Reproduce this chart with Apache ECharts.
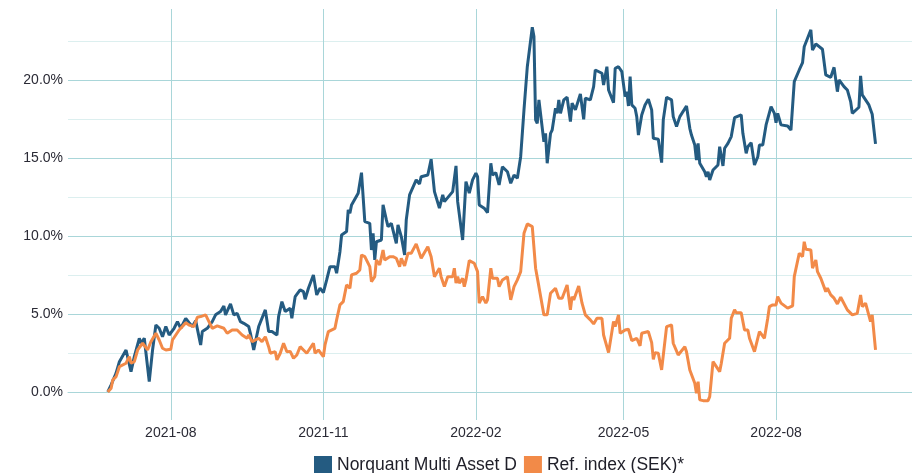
<!DOCTYPE html>
<html>
<head>
<meta charset="utf-8">
<script src="https://cdn.jsdelivr.net/npm/echarts@6/dist/echarts.min.js"></script>
<style>
  html, body { margin: 0; padding: 0; background: #fff; }
  #chart { width: 912px; height: 473px; }
</style>
</head>
<body>
<div id="chart"></div>
<script>
// axis ticks
var monthTicks = ['2021-08-01', '2021-11-01', '2022-02-01', '2022-05-01', '2022-08-01'];
var percentTicks = [0, 5, 10, 15, 20];
var gridTicks = [0, 2.5, 5, 7.5, 10, 12.5, 15, 17.5, 20, 22.5];

// Norquant Multi Asset D (%)
var fundDates = [
  '2021-06-24','2021-06-26','2021-06-29','2021-07-01','2021-07-05','2021-07-08','2021-07-10','2021-07-13','2021-07-14','2021-07-16',
  '2021-07-19','2021-07-21','2021-07-23','2021-07-25','2021-07-27','2021-07-29','2021-07-31','2021-08-03','2021-08-05','2021-08-07',
  '2021-08-10','2021-08-12','2021-08-14','2021-08-16','2021-08-19','2021-08-20','2021-08-23','2021-08-26','2021-08-28','2021-08-31',
  '2021-09-02','2021-09-03','2021-09-06','2021-09-08','2021-09-10','2021-09-12','2021-09-14','2021-09-17','2021-09-18','2021-09-20',
  '2021-09-23','2021-09-24','2021-09-27','2021-09-29','2021-10-01','2021-10-04','2021-10-05','2021-10-07','2021-10-09','2021-10-12',
  '2021-10-13','2021-10-15','2021-10-18','2021-10-20','2021-10-21','2021-10-23','2021-10-26','2021-10-28','2021-10-30','2021-11-01',
  '2021-11-03','2021-11-04','2021-11-05','2021-11-08','2021-11-09','2021-11-11','2021-11-12','2021-11-15','2021-11-16','2021-11-17',
  '2021-11-18','2021-11-22','2021-11-24','2021-11-25','2021-11-26','2021-11-29','2021-11-30','2021-12-01','2021-12-02','2021-12-03',
  '2021-12-06','2021-12-07','2021-12-09','2021-12-10','2021-12-12','2021-12-13','2021-12-15','2021-12-16','2021-12-18','2021-12-20',
  '2021-12-21','2021-12-23','2021-12-27','2021-12-29','2021-12-30','2022-01-03','2022-01-05','2022-01-07','2022-01-10','2022-01-12',
  '2022-01-13','2022-01-18','2022-01-20','2022-01-21','2022-01-24','2022-01-26','2022-01-28','2022-01-30','2022-02-01','2022-02-02',
  '2022-02-03','2022-02-06','2022-02-08','2022-02-10','2022-02-11','2022-02-13','2022-02-15','2022-02-17','2022-02-20','2022-02-22',
  '2022-02-24','2022-02-26','2022-02-28','2022-03-02','2022-03-04','2022-03-07','2022-03-08','2022-03-09','2022-03-10','2022-03-11',
  '2022-03-14','2022-03-15','2022-03-16','2022-03-18','2022-03-19','2022-03-21','2022-03-22','2022-03-23','2022-03-24','2022-03-26',
  '2022-03-28','2022-03-30','2022-03-31','2022-04-02','2022-04-05','2022-04-07','2022-04-08','2022-04-11','2022-04-13','2022-04-14',
  '2022-04-18','2022-04-19','2022-04-21','2022-04-22','2022-04-25','2022-04-26','2022-04-28','2022-04-30','2022-05-02','2022-05-03',
  '2022-05-04','2022-05-05','2022-05-06','2022-05-08','2022-05-09','2022-05-10','2022-05-12','2022-05-14','2022-05-16','2022-05-18',
  '2022-05-19','2022-05-22','2022-05-24','2022-05-25','2022-05-27','2022-05-30','2022-05-31','2022-06-02','2022-06-04','2022-06-08',
  '2022-06-10','2022-06-11','2022-06-13','2022-06-14','2022-06-15','2022-06-16','2022-06-19','2022-06-20','2022-06-21','2022-06-22',
  '2022-06-24','2022-06-27','2022-06-28','2022-06-30','2022-07-01','2022-07-03','2022-07-05','2022-07-07','2022-07-11','2022-07-12',
  '2022-07-14','2022-07-15','2022-07-17','2022-07-19','2022-07-21','2022-07-22','2022-07-24','2022-07-26','2022-07-27','2022-07-29',
  '2022-07-31','2022-08-01','2022-08-02','2022-08-04','2022-08-05','2022-08-08','2022-08-10','2022-08-12','2022-08-15','2022-08-17',
  '2022-08-18','2022-08-20','2022-08-22','2022-08-23','2022-08-25','2022-08-29','2022-08-31','2022-09-03','2022-09-05','2022-09-07',
  '2022-09-08','2022-09-11','2022-09-13','2022-09-15','2022-09-16','2022-09-20','2022-09-21','2022-09-22','2022-09-24','2022-09-26',
  '2022-09-28','2022-09-30'
];
var fundValues = [
  0.0, 0.45, 1.2, 1.94, 2.69, 1.30, 2.26, 3.44, 3.12, 3.44,
  0.66, 2.69, 4.29, 4.08, 3.54, 4.19, 3.65, 4.08, 4.51, 4.08,
  4.72, 4.44, 4.19, 4.57, 3.01, 3.87, 4.08, 4.51, 4.94, 5.15,
  5.51, 4.94, 5.64, 4.94, 5.04, 4.51, 4.40, 4.19, 3.76, 2.69,
  4.19, 4.29, 5.26, 3.87, 3.87, 3.65, 4.83, 5.79, 5.15, 5.37,
  4.72, 6.11, 6.54, 6.43, 5.94, 6.65, 7.50, 6.22, 6.65, 6.37,
  7.18, 7.18, 8.03, 8.03, 7.61, 8.99, 10.06, 10.28, 11.67, 11.45,
  11.99, 12.74, 14.06, 14.02, 10.92, 10.81, 9.10, 10.17, 8.46, 9.63,
  9.74, 11.99, 11.03, 10.60, 10.81, 10.38, 9.53, 10.71, 9.96, 8.78,
  11.03, 12.63, 13.59, 13.33, 13.80, 13.91, 14.92, 12.84, 11.78, 12.63,
  12.20, 12.84, 14.49, 12.20, 9.74, 13.48, 12.74, 13.59, 14.02, 13.80,
  11.99, 11.78, 11.49, 14.66, 13.91, 14.06, 13.27, 14.44, 14.12, 13.38,
  13.91, 13.70, 15.08, 18.08, 20.85, 23.38, 22.78, 17.44, 17.22, 18.72,
  16.04, 16.58, 14.66, 16.58, 16.79, 18.19, 17.86, 18.72, 17.86, 18.72,
  18.89, 17.33, 18.51, 18.08, 19.10, 17.48, 18.83, 18.72, 19.57, 20.64,
  20.43, 19.68, 20.85, 19.36, 18.55, 20.75, 20.85, 20.53, 18.93, 19.25,
  18.33, 20.21, 18.40, 18.19, 17.65, 16.47, 17.76, 18.40, 18.76, 18.08,
  16.26, 16.20, 14.70, 17.44, 18.89, 18.72, 17.65, 17.01, 17.65, 18.33,
  16.90, 16.47, 15.83, 14.87, 15.94, 14.66, 14.12, 13.80, 14.12, 13.59,
  14.23, 14.55, 15.72, 14.49, 15.62, 15.94, 16.37, 17.58, 17.76, 16.58,
  15.30, 15.72, 15.98, 14.55, 15.08, 15.83, 15.83, 17.12, 17.22, 18.29,
  17.86, 17.26, 17.86, 17.12, 17.05, 17.05, 16.79, 19.89, 20.64, 21.11,
  22.13, 22.67, 23.21, 21.92, 22.31, 21.97, 20.32, 20.17, 20.81, 19.25,
  20.00, 19.57, 19.36, 18.61, 17.86, 18.25, 20.26, 19.04, 18.72, 18.40,
  17.80, 15.90
];

// Ref. index (SEK)* (%)
var refDates = [
  '2021-06-24','2021-06-26','2021-06-27','2021-06-29','2021-07-01','2021-07-05','2021-07-07','2021-07-08','2021-07-10','2021-07-12',
  '2021-07-15','2021-07-18','2021-07-20','2021-07-23','2021-07-25','2021-07-27','2021-07-29','2021-08-01','2021-08-02','2021-08-04',
  '2021-08-06','2021-08-08','2021-08-10','2021-08-12','2021-08-15','2021-08-17','2021-08-19','2021-08-22','2021-08-24','2021-08-26',
  '2021-08-29','2021-09-02','2021-09-04','2021-09-07','2021-09-10','2021-09-13','2021-09-16','2021-09-17','2021-09-19','2021-09-20',
  '2021-09-23','2021-09-25','2021-09-27','2021-09-29','2021-09-30','2021-10-03','2021-10-04','2021-10-06','2021-10-08','2021-10-10',
  '2021-10-12','2021-10-14','2021-10-16','2021-10-18','2021-10-20','2021-10-22','2021-10-24','2021-10-26','2021-10-27','2021-10-29',
  '2021-11-01','2021-11-02','2021-11-03','2021-11-04','2021-11-08','2021-11-09','2021-11-11','2021-11-13','2021-11-14','2021-11-15',
  '2021-11-17','2021-11-18','2021-11-21','2021-11-23','2021-11-24','2021-11-26','2021-11-29','2021-11-30','2021-12-02','2021-12-03',
  '2021-12-05','2021-12-07','2021-12-08','2021-12-11','2021-12-13','2021-12-15','2021-12-17','2021-12-18','2021-12-20','2021-12-22',
  '2021-12-24','2021-12-27','2021-12-30','2022-01-03','2022-01-05','2022-01-07','2022-01-10','2022-01-11','2022-01-13','2022-01-15',
  '2022-01-18','2022-01-19','2022-01-20','2022-01-21','2022-01-22','2022-01-24','2022-01-25','2022-01-26','2022-01-28','2022-01-31',
  '2022-02-02','2022-02-03','2022-02-05','2022-02-07','2022-02-08','2022-02-10','2022-02-11','2022-02-14','2022-02-15','2022-02-17',
  '2022-02-20','2022-02-21','2022-02-22','2022-02-23','2022-02-24','2022-02-26','2022-02-28','2022-03-02','2022-03-04','2022-03-07',
  '2022-03-09','2022-03-11','2022-03-14','2022-03-16','2022-03-18','2022-03-21','2022-03-23','2022-03-25','2022-03-28','2022-03-30',
  '2022-03-31','2022-04-01','2022-04-04','2022-04-06','2022-04-08','2022-04-11','2022-04-13','2022-04-15','2022-04-18','2022-04-19',
  '2022-04-22','2022-04-25','2022-04-26','2022-04-28','2022-04-29','2022-05-02','2022-05-04','2022-05-06','2022-05-09','2022-05-11',
  '2022-05-12','2022-05-16','2022-05-18','2022-05-19','2022-05-20','2022-05-22','2022-05-24','2022-05-27','2022-05-30','2022-05-31',
  '2022-06-01','2022-06-03','2022-06-07','2022-06-08','2022-06-10','2022-06-13','2022-06-14','2022-06-15','2022-06-16','2022-06-18',
  '2022-06-21','2022-06-22','2022-06-24','2022-06-26','2022-06-28','2022-06-29','2022-06-30','2022-07-01','2022-07-04','2022-07-05',
  '2022-07-07','2022-07-08','2022-07-11','2022-07-13','2022-07-15','2022-07-16','2022-07-19','2022-07-22','2022-07-25','2022-07-27',
  '2022-07-28','2022-07-30','2022-08-01','2022-08-02','2022-08-04','2022-08-08','2022-08-11','2022-08-12','2022-08-15','2022-08-17',
  '2022-08-18','2022-08-19','2022-08-22','2022-08-23','2022-08-25','2022-08-26','2022-08-28','2022-08-31','2022-09-01','2022-09-03',
  '2022-09-05','2022-09-07','2022-09-09','2022-09-13','2022-09-16','2022-09-19','2022-09-21','2022-09-22','2022-09-24','2022-09-27',
  '2022-09-28','2022-09-30'
];
var refValues = [
  0.0, 0.24, 0.77, 0.98, 1.62, 1.84, 2.26, 1.84, 1.94, 2.69,
  3.12, 2.69, 3.22, 3.76, 3.33, 2.80, 2.69, 2.74, 3.33, 3.65,
  3.97, 4.19, 4.44, 4.29, 4.19, 4.79, 4.83, 4.94, 4.51, 4.08,
  4.23, 4.08, 3.76, 3.97, 3.97, 3.65, 3.44, 3.65, 3.22, 3.12,
  3.44, 3.22, 3.54, 2.90, 2.48, 2.58, 2.05, 2.48, 3.12, 2.58,
  2.60, 2.16, 2.37, 2.90, 2.69, 2.48, 2.80, 3.12, 2.48, 2.69,
  2.26, 3.01, 3.01, 3.87, 4.08, 4.62, 5.58, 5.79, 5.90, 6.86,
  6.65, 7.50, 7.61, 7.82, 8.78, 8.67, 8.03, 7.07, 7.39, 8.46,
  8.14, 9.10, 8.46, 8.67, 8.67, 8.57, 8.03, 8.57, 8.08, 8.89,
  8.89, 9.49, 8.57, 9.31, 8.67, 7.39, 7.93, 7.39, 6.75, 7.39,
  7.39, 7.93, 6.97, 7.39, 6.97, 7.29, 6.75, 7.18, 8.42, 8.25,
  7.71, 5.69, 6.11, 5.69, 5.90, 7.93, 7.29, 7.29, 6.75, 7.18,
  7.39, 7.39, 5.90, 5.90, 6.75, 7.18, 7.71, 10.17, 10.77, 10.60,
  7.93, 6.75, 4.94, 4.94, 6.33, 6.65, 6.01, 6.01, 6.86, 5.26,
  6.11, 5.90, 6.79, 5.69, 4.94, 4.62, 4.36, 4.72, 4.72, 3.65,
  2.52, 4.51, 4.19, 4.94, 3.76, 3.97, 4.02, 3.29, 3.44, 2.95,
  3.76, 3.87, 3.16, 2.09, 2.52, 2.48, 1.41, 4.19, 4.29, 3.12,
  3.16, 2.37, 2.90, 2.58, 1.41, 0.56, -0.08, 0.66, -0.51, -0.56,
  -0.56, -0.30, 1.94, 1.62, 1.30, 1.84, 1.88, 3.12, 3.44, 4.72,
  5.26, 5.08, 5.08, 3.97, 3.97, 3.44, 2.58, 3.87, 3.44, 4.72,
  5.47, 5.58, 5.58, 6.11, 5.69, 5.37, 5.51, 7.39, 8.89, 8.67,
  9.63, 9.15, 9.10, 7.93, 8.46, 7.71, 7.29, 6.43, 6.65, 6.22,
  6.01, 5.64, 6.07, 5.26, 4.94, 5.04, 6.22, 5.47, 5.69, 4.51,
  4.94, 2.69
];

function pairs(dates, values) {
    return dates.map(function (d, i) { return [d, values[i]]; });
}

var chart = echarts.init(document.getElementById('chart'));

chart.setOption({
    animation: false,
    color: ['#245b81', '#f28a48'],
    textStyle: { fontFamily: 'Liberation Sans, Arial, sans-serif' },
    legend: {
        left: 309,
        top: 451,
        icon: 'rect',
        itemWidth: 18,
        itemHeight: 18,
        itemGap: 7,
        textStyle: { fontSize: 17.5, color: '#1e1e28' },
        data: ['Norquant Multi Asset D', 'Ref. index (SEK)*']
    },
    grid: {
        left: 68,
        right: 0,
        top: 9,
        bottom: 53,
        containLabel: false
    },
    xAxis: {
        type: 'time',
        min: '2021-05-31',
        max: '2022-10-22',
        axisLine: { show: true, lineStyle: { color: '#a9d6d9', width: 1 } },
        axisTick: { show: false, customValues: monthTicks },
        axisLabel: {
            customValues: monthTicks,
            formatter: '{yyyy}-{MM}',
            fontSize: 14,
            color: '#2a2a35',
            margin: 6
        },
        splitLine: { show: true, lineStyle: { color: '#a9d6d9', width: 1 } }
    },
    yAxis: {
        type: 'value',
        min: -1.8,
        max: 24.55,
        axisLine: { show: false },
        axisTick: { show: false, customValues: gridTicks },
        axisLabel: {
            customValues: percentTicks,
            formatter: function (v) { return v.toFixed(1) + '%'; },
            fontSize: 14,
            color: '#2a2a35',
            margin: 5
        },
        splitLine: { show: true, lineStyle: { color: ['#a9d6d9', '#dcefef'], width: 1 } }
    },
    series: [
        {
            name: 'Norquant Multi Asset D',
            type: 'line',
            showSymbol: false,
            lineStyle: { width: 3 },
            data: pairs(fundDates, fundValues)
        },
        {
            name: 'Ref. index (SEK)*',
            type: 'line',
            showSymbol: false,
            lineStyle: { width: 3 },
            data: pairs(refDates, refValues)
        }
    ]
});
</script>
</body>
</html>
